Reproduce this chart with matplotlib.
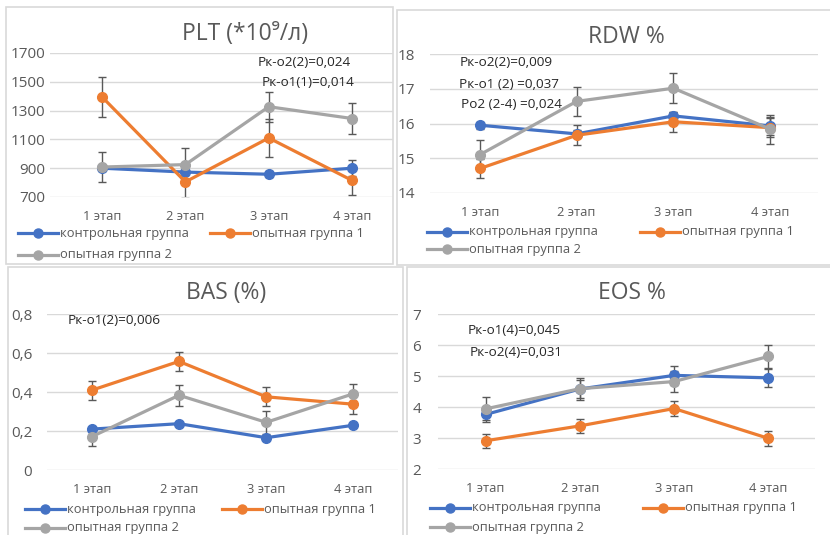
import numpy as np
import matplotlib
matplotlib.use('Agg')
import matplotlib.pyplot as plt
from matplotlib.lines import Line2D
from matplotlib.patches import Rectangle

plt.rcParams['font.family'] = ['Open Sans', 'DejaVu Sans']

# data
stages = ['1 этап', '2 этап', '3 этап', '4 этап']
group_names = ['контрольная группа', 'опытная группа 1', 'опытная группа 2']
group_colors = ['#4472C4', '#ED7D31', '#A5A5A5']

plt_ctrl = [900, 873, 858, 900]
plt_g1 = [1395, 805, 1110, 815]
plt_g2 = [908, 925, 1327, 1245]
plt_ctrl_err = [20, 20, 20, 55]
plt_g1_err = [140, 115, 135, 100]
plt_g2_err = [107, 113, 105, 105]

rdw_ctrl = [15.95, 15.70, 16.22, 15.93]
rdw_g1 = [14.70, 15.66, 16.05, 15.88]
rdw_g2 = [15.10, 16.64, 17.02, 15.84]
rdw_ctrl_err = [0.10, 0.10, 0.10, 0.27]
rdw_g1_err = [0.27, 0.29, 0.29, 0.28]
rdw_g2_err = [0.43, 0.42, 0.43, 0.42]

bas_ctrl = [0.210, 0.238, 0.166, 0.230]
bas_g1 = [0.410, 0.558, 0.376, 0.338]
bas_g2 = [0.171, 0.384, 0.245, 0.392]
bas_ctrl_err = [0.01, 0.01, 0.01, 0.01]
bas_g1_err = [0.048, 0.047, 0.048, 0.048]
bas_g2_err = [0.050, 0.053, 0.058, 0.052]

eos_ctrl = [3.77, 4.59, 5.03, 4.95]
eos_g1 = [2.92, 3.40, 3.96, 3.00]
eos_g2 = [3.95, 4.60, 4.83, 5.64]
eos_ctrl_err = [0.25, 0.30, 0.30, 0.28]
eos_g1_err = [0.22, 0.23, 0.23, 0.25]
eos_g2_err = [0.37, 0.35, 0.35, 0.36]

W, H = 830, 535
TXT = '#595959'
NOTE = '#262626'
GRID = '#D9D9D9'

fig = plt.figure(figsize=(W/100, H/100), dpi=100)


def fx(x): return x/W
def fy(y): return 1 - y/H


def frame(x0, y0, x1, y1):
    fig.add_artist(Rectangle((fx(x0), fy(y1)), (x1-x0)/W, (y1-y0)/H, transform=fig.transFigure,
                             fill=False, edgecolor=GRID, lw=1.2))


def legend(entries):
    # entries: (x of handle start, y) in pixels
    for (x, y), name, c in zip(entries, group_names, group_colors):
        fig.add_artist(Line2D([fx(x), fx(x+20), fx(x+40)], [fy(y)]*3, transform=fig.transFigure,
                              color=c, lw=2.3, marker='o', ms=6.5, markevery=[1]))
        fig.text(fx(x+42), fy(y), name, fontsize=9.3, color=TXT, va='center', ha='left')


def panel(box, xlim, yticks, ylabels, series, errs, ypad):
    x0, y0, x1, y1 = box
    ax = fig.add_axes([fx(x0), fy(y1), (x1-x0)/W, (y1-y0)/H])
    xs = np.arange(len(stages))
    for vals, err, c in zip(series, errs, group_colors):
        ax.errorbar(xs, vals, yerr=err, color=c, lw=2.3, marker='o', ms=7,
                    ecolor='#595959', elinewidth=1.0, capsize=3.2, capthick=1.0, zorder=3)
    ax.set_xlim(xlim)
    ax.set_ylim(yticks[0], yticks[-1])
    ax.set_yticks(yticks)
    ax.set_yticklabels(ylabels)
    ax.set_xticks(xs)
    ax.set_xticklabels(stages)
    ax.grid(axis='y', color=GRID, lw=1.0)
    ax.set_axisbelow(True)
    for s in ax.spines.values():
        s.set_visible(False)
    ax.tick_params(axis='y', length=0, pad=ypad, labelsize=11, labelcolor=TXT)
    ax.tick_params(axis='x', length=0, pad=9.5, labelsize=9.3, labelcolor=TXT)
    ax.patch.set_alpha(0)
    return ax


# PLT
frame(6, 7, 393, 264)
panel((50, 53, 393, 197), (-0.624, 3.49), [700, 900, 1100, 1300, 1500, 1700],
      ['700', '900', '1100', '1300', '1500', '1700'],
      [plt_ctrl, plt_g1, plt_g2], [plt_ctrl_err, plt_g1_err, plt_g2_err], 3.6)
fig.text(fx(245), fy(34), 'PLT (*10⁹/л)', fontsize=16.5, color=TXT, ha='center', va='center')
fig.text(fx(258), fy(62), 'Рк-о2(2)=0,024', fontsize=9.7, color=NOTE, va='center')
fig.text(fx(262), fy(82), 'Рк-о1(1)=0,014', fontsize=9.7, color=NOTE, va='center')
legend([(18, 233), (210, 233), (18, 255)])

# RDW
frame(397, 10, 831, 265)
panel((430, 54.3, 818, 192.7), (-0.517, 3.496), [14, 15, 16, 17, 18],
      ['14', '15', '16', '17', '18'],
      [rdw_ctrl, rdw_g1, rdw_g2], [rdw_ctrl_err, rdw_g1_err, rdw_g2_err], 10.8)
fig.text(fx(626), fy(37), 'RDW %', fontsize=16.5, color=TXT, ha='center', va='center')
fig.text(fx(460), fy(63), 'Рк-о2(2)=0,009', fontsize=9.7, color=NOTE, va='center')
fig.text(fx(459), fy(85), 'Рк-о1 (2) =0,037', fontsize=9.7, color=NOTE, va='center')
fig.text(fx(461), fy(104), 'Ро2 (2-4) =0,024', fontsize=9.7, color=NOTE, va='center')
legend([(427, 232), (640, 232), (427, 249)])

# BAS
frame(8, 267, 403, 537)
panel((46.7, 314.3, 398, 470), (-0.516, 3.51), [0, 0.2, 0.4, 0.6, 0.8],
      ['0', '0,2', '0,4', '0,6', '0,8'],
      [bas_ctrl, bas_g1, bas_g2], [bas_ctrl_err, bas_g1_err, bas_g2_err], 10.4)
fig.text(fx(226), fy(293), 'BAS (%)', fontsize=16.5, color=TXT, ha='center', va='center')
fig.text(fx(68), fy(321), 'Рк-о1(2)=0,006', fontsize=9.7, color=NOTE, va='center')
legend([(25, 509), (222, 509), (25, 528)])

# EOS
frame(407, 267, 831, 537)
panel((438.3, 314.3, 815, 469.3), (-0.503, 3.496), [2, 3, 4, 5, 6, 7],
      ['2', '3', '4', '5', '6', '7'],
      [eos_ctrl, eos_g1, eos_g2], [eos_ctrl_err, eos_g1_err, eos_g2_err], 12.5)
fig.text(fx(632), fy(293), 'EOS %', fontsize=16.5, color=TXT, ha='center', va='center')
fig.text(fx(468), fy(330), 'Рк-о1(4)=0,045', fontsize=9.7, color=NOTE, va='center')
fig.text(fx(470), fy(353), 'Рк-о2(4)=0,031', fontsize=9.7, color=NOTE, va='center')
legend([(430, 508), (643, 508), (430, 527)])

fig.savefig('out.png', dpi=100, facecolor='white')
